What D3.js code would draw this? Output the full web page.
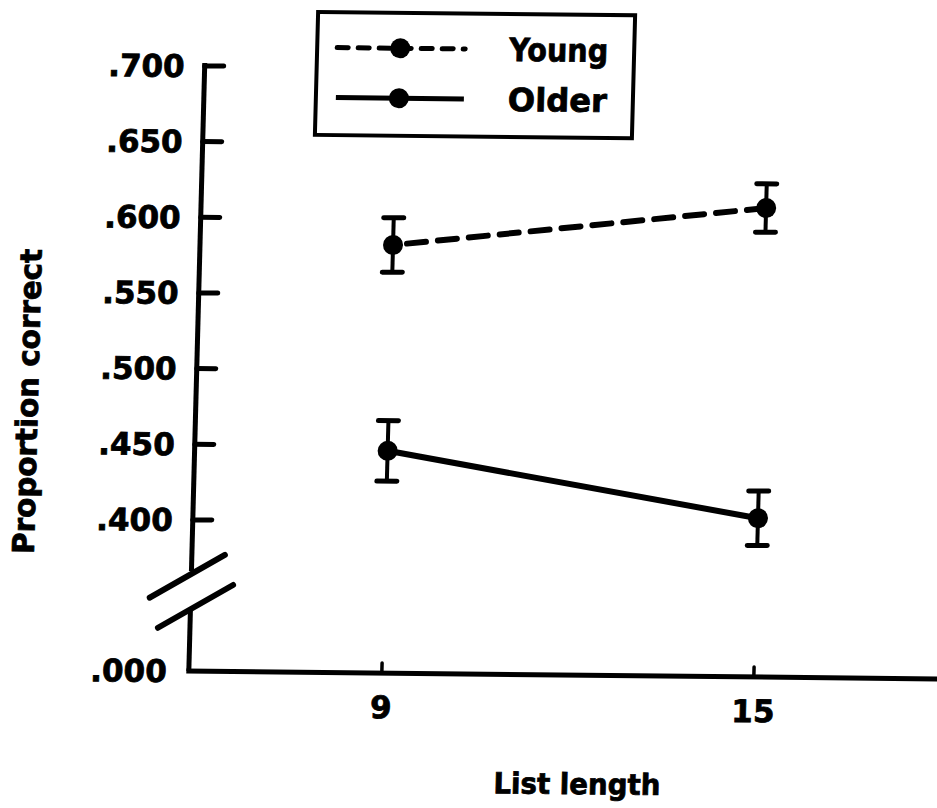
<!DOCTYPE html>
<html>
<head>
<meta charset="utf-8">
<script src="https://cdn.jsdelivr.net/npm/d3@7/dist/d3.min.js"></script>
<style>
  html, body { margin: 0; padding: 0; background: #fff; }
  svg { display: block; }
  text { font-family: "DejaVu Sans", "Liberation Sans", sans-serif; font-weight: bold; fill: #000; stroke: #000; stroke-width: 0.8px; }
</style>
</head>
<body>
<svg id="chart" width="937" height="808"></svg>
<script>
// ---- data ----
const listLengths = [9, 15];
const seriesNames = ["Young", "Older"];
const youngMeans = [0.583, 0.610];
const youngErrors = [0.018, 0.016];
const olderMeans = [0.447, 0.405];
const olderErrors = [0.020, 0.018];
const yTickValues = [0.400, 0.450, 0.500, 0.550, 0.600, 0.650, 0.700];
const yTickLabels = [".400", ".450", ".500", ".550", ".600", ".650", ".700"];
const yZeroLabel = ".000";
const xTickLabels = ["9", "15"];
const xTitle = "List length";
const yTitle = "Proportion correct";

// ---- layout ----
const axisX = 196;
const baseY = 674;
const svg = d3.select("#chart");
const cx = 470, cy = 400;
const g = svg.append("g")
  .attr("transform", `translate(${cx},${cy}) skewY(0.6) skewX(-1.5) translate(${-cx},${-cy})`);

const x = d3.scaleLinear().domain([9, 15]).range([389, 761]);
const y = d3.scaleLinear().domain([0.400, 0.700]).range([522.8, 68.7]);

const series = [
  { name: seriesNames[0], means: youngMeans, errs: youngErrors, dash: "19,12" },
  { name: seriesNames[1], means: olderMeans, errs: olderErrors, dash: null }
];

// y axis upper segment
g.append("line").attr("x1", axisX).attr("x2", axisX)
  .attr("y1", y(0.700) - 3).attr("y2", 574)
  .attr("stroke", "#000").attr("stroke-width", 5);
// y ticks
g.selectAll(".ytick").data(yTickValues).join("line")
  .attr("x1", axisX).attr("x2", axisX + 19)
  .attr("y1", d => y(d)).attr("y2", d => y(d))
  .attr("stroke", "#000").attr("stroke-width", 5).attr("stroke-linecap", "round");
g.selectAll(".ylab").data(yTickValues).join("text")
  .attr("x", axisX - 20).attr("y", d => y(d))
  .attr("dy", "0.36em").attr("text-anchor", "end")
  .attr("font-size", 31)
  .text((d, i) => yTickLabels[i]);

// lower segment + zero label
g.append("line").attr("x1", axisX).attr("x2", axisX)
  .attr("y1", 612).attr("y2", baseY)
  .attr("stroke", "#000").attr("stroke-width", 5);
g.append("text").attr("x", axisX - 22).attr("y", baseY)
  .attr("dy", "0.36em").attr("text-anchor", "end").attr("font-size", 31)
  .text(yZeroLabel);

// break marks
[[-41, 601, 33, 557.5], [-32, 631, 42, 587.5]].forEach(b => {
  g.append("line")
    .attr("x1", axisX + b[0]).attr("y1", b[1])
    .attr("x2", axisX + b[2]).attr("y2", b[3])
    .attr("stroke", "#000").attr("stroke-width", 6).attr("stroke-linecap", "round");
});

// x axis
g.append("line").attr("x1", axisX - 2.5).attr("x2", 960)
  .attr("y1", baseY).attr("y2", baseY)
  .attr("stroke", "#000").attr("stroke-width", 5);
g.selectAll(".xtick").data(listLengths).join("line")
  .attr("x1", d => x(d)).attr("x2", d => x(d))
  .attr("y1", baseY).attr("y2", baseY - 10)
  .attr("stroke", "#000").attr("stroke-width", 3.5).attr("stroke-linecap", "round");
g.selectAll(".xlab").data(listLengths).join("text")
  .attr("x", d => x(d)).attr("y", baseY + 34)
  .attr("dy", "0.36em").attr("text-anchor", "middle").attr("font-size", 31)
  .text((d, i) => xTickLabels[i]);

// axis titles
g.append("text").attr("x", 587).attr("y", 793)
  .attr("text-anchor", "middle").attr("font-size", 29)
  .attr("textLength", 167).attr("lengthAdjust", "spacingAndGlyphs")
  .text(xTitle);
g.append("text")
  .attr("transform", `translate(38,406) rotate(-90)`)
  .attr("text-anchor", "middle").attr("font-size", 30)
  .attr("textLength", 305).attr("lengthAdjust", "spacingAndGlyphs")
  .text(yTitle);

// series lines
const line = d3.line().x((d, i) => x(listLengths[i])).y(d => y(d));
series.forEach(s => {
  const p = g.append("path").datum(s.means)
    .attr("d", line).attr("fill", "none")
    .attr("stroke", "#000").attr("stroke-width", 6);
  if (s.dash) p.attr("stroke-dasharray", s.dash).attr("stroke-linecap", "round").attr("stroke-dashoffset", -14);
  // error bars
  s.means.forEach((m, i) => {
    const xx = x(listLengths[i]);
    const e = s.errs[i];
    g.append("line").attr("x1", xx).attr("x2", xx)
      .attr("y1", y(m + e)).attr("y2", y(m - e))
      .attr("stroke", "#000").attr("stroke-width", 4);
    [m + e, m - e].forEach(v => {
      g.append("line").attr("x1", xx - 10).attr("x2", xx + 10)
        .attr("y1", y(v)).attr("y2", y(v))
        .attr("stroke", "#000").attr("stroke-width", 5).attr("stroke-linecap", "round");
    });
    g.append("circle").attr("cx", xx).attr("cy", y(m)).attr("r", 10).attr("fill", "#000");
  });
});

// legend
const lg = g.append("g");
lg.append("rect").attr("x", 308).attr("y", 13.5).attr("width", 317).attr("height", 123)
  .attr("fill", "none").attr("stroke", "#000").attr("stroke-width", 4);
const legendRows = [49, 99];
series.forEach((s, i) => {
  const ly = legendRows[i];
  const l = lg.append("line").attr("x1", 328).attr("x2", 456)
    .attr("y1", ly).attr("y2", ly)
    .attr("stroke", "#000").attr("stroke-width", 5);
  if (s.dash) l.attr("stroke-dasharray", "11,10").attr("stroke-linecap", "round");
  lg.append("circle").attr("cx", 391).attr("cy", ly).attr("r", 10).attr("fill", "#000");
  lg.append("text").attr("x", 500).attr("y", ly).attr("dy", "0.36em")
    .attr("font-size", 32).attr("textLength", 99).attr("lengthAdjust", "spacingAndGlyphs")
    .text(s.name);
});
</script>
</body>
</html>
